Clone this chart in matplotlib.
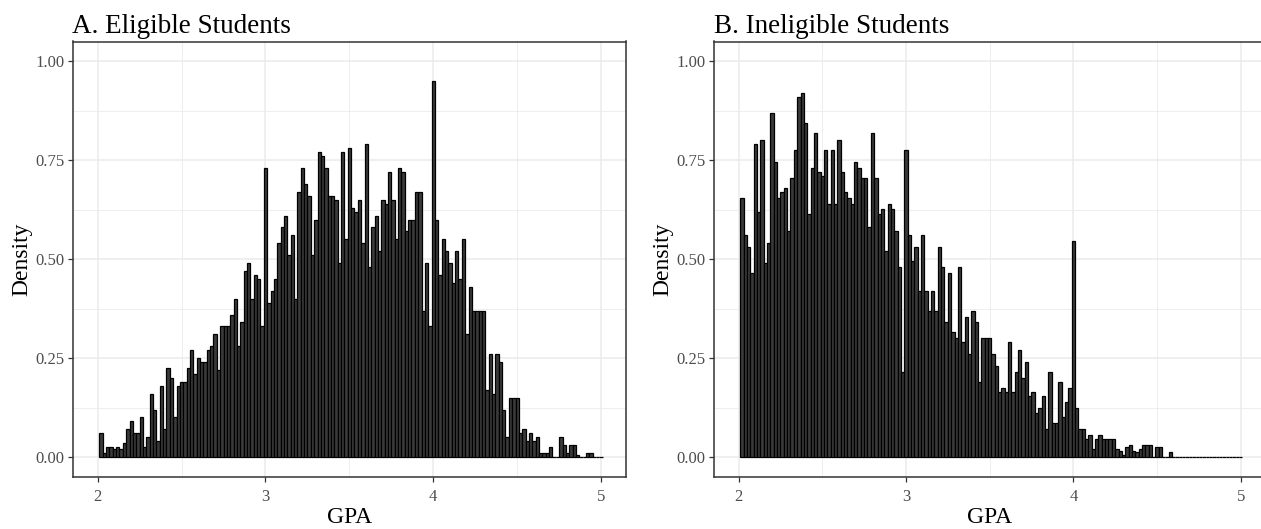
import numpy as np
import matplotlib
matplotlib.use('Agg')
import matplotlib.pyplot as plt

plt.rcParams['font.family'] = ['Liberation Serif', 'DejaVu Serif']

# histogram bins: width 0.02, centres 2.02 ... 5.00
bin_width = 0.02
bin_centers = np.round(2.02 + bin_width * np.arange(150), 2)

# density per bin
eligible = [
    0.06, 0.01, 0.025, 0.025, 0.02, 0.025, 0.02, 0.035, 0.07, 0.09,
    0.06, 0.06, 0.10, 0.025, 0.05, 0.16, 0.12, 0.04, 0.18, 0.07,
    0.225, 0.20, 0.10, 0.18, 0.19, 0.19, 0.225, 0.27,
    0.21, 0.25, 0.24, 0.24, 0.27, 0.28, 0.31, 0.22, 0.33, 0.33,
    0.33, 0.36, 0.40, 0.28, 0.34, 0.47, 0.49, 0.40, 0.46, 0.45,
    0.33, 0.73, 0.39, 0.42, 0.45, 0.54, 0.58, 0.61, 0.51, 0.56,
    0.40, 0.67, 0.73, 0.69, 0.66, 0.51, 0.60, 0.77, 0.76,
    0.73, 0.66, 0.66, 0.65, 0.49, 0.77, 0.55, 0.78, 0.63, 0.62,
    0.65, 0.54, 0.79, 0.48, 0.58, 0.61, 0.52, 0.65, 0.64, 0.72,
    0.65, 0.55, 0.73, 0.72, 0.57, 0.60, 0.60, 0.67, 0.67, 0.37,
    0.49, 0.33, 0.95, 0.60, 0.46, 0.55, 0.52,
    0.49, 0.44, 0.52, 0.45, 0.55, 0.31, 0.43, 0.37, 0.37, 0.37,
    0.37, 0.17, 0.26, 0.16, 0.26, 0.24, 0.12, 0.05, 0.15, 0.15,
    0.15, 0.06, 0.07, 0.04, 0.06, 0.04, 0.05, 0.01, 0.01, 0.01,
    0.025, 0.0, 0.0, 0.05, 0.03, 0.01, 0.03,
    0.03, 0.005, 0.0, 0.0, 0.01, 0.01, 0.0, 0.0, 0.0,
]

ineligible = [
    0.655, 0.56, 0.53, 0.465, 0.79, 0.62, 0.80, 0.49, 0.54, 0.87,
    0.745, 0.655, 0.67, 0.68, 0.57, 0.705, 0.775, 0.91, 0.92, 0.845,
    0.615, 0.73, 0.82, 0.72, 0.71, 0.775, 0.64, 0.775, 0.64, 0.80,
    0.72, 0.67, 0.655, 0.64, 0.745, 0.73, 0.705,
    0.705, 0.58, 0.82, 0.705, 0.615, 0.627, 0.52, 0.64, 0.627, 0.57,
    0.48, 0.215, 0.775, 0.56, 0.495, 0.53, 0.42, 0.56, 0.42, 0.37,
    0.42, 0.37, 0.53, 0.48, 0.34, 0.465, 0.315, 0.30, 0.48, 0.29,
    0.355, 0.26, 0.37, 0.34, 0.19, 0.30, 0.30,
    0.30, 0.26, 0.23, 0.165, 0.175, 0.165, 0.29, 0.165, 0.215, 0.27,
    0.20, 0.24, 0.155, 0.165, 0.11, 0.125, 0.155, 0.07, 0.215, 0.085,
    0.085, 0.19, 0.10, 0.14, 0.175,
    0.545,
    0.125, 0.07, 0.07, 0.045, 0.055, 0.02, 0.045, 0.055, 0.045, 0.045,
    0.045,
    0.045, 0.02, 0.015, 0.005, 0.025, 0.03, 0.015, 0.013, 0.02, 0.03,
    0.03, 0.03, 0.0, 0.025, 0.025, 0.0, 0.0, 0.013,
    0.0, 0.0, 0.0, 0.0, 0.0, 0.0, 0.0, 0.0, 0.0, 0.0,
    0.0, 0.0, 0.0, 0.0, 0.0, 0.0, 0.0, 0.0, 0.0, 0.0, 0.0,
]

titles = ['A. Eligible Students', 'B. Ineligible Students']
x_ticks = [2, 3, 4, 5]
y_ticks = [0.0, 0.25, 0.5, 0.75, 1.0]
y_ticklabels = ['0.00', '0.25', '0.50', '0.75', '1.00']

W, H = 1261, 529
fig = plt.figure(figsize=(W / 100, H / 100), dpi=100)
# panel boxes in pixels: left, right, top, bottom (right panel runs off the edge)
boxes = [(72.5, 626.3, 41.5, 476.8), (713.5, 1265.8, 41.5, 476.8)]

for (l, r, t, b), dens, title in zip(boxes, [eligible, ineligible], titles):
    ax = fig.add_axes([l / W, (H - b) / H, (r - l) / W, (b - t) / H])
    ax.bar(bin_centers, dens, width=bin_width, color='#3a3a3a',
           edgecolor='black', linewidth=0.9, zorder=3)
    ax.set_xlim(1.85, 5.15)
    ax.set_ylim(-0.05, 1.05)
    ax.set_xticks(x_ticks)
    ax.set_xticks([2.5, 3.5, 4.5], minor=True)
    ax.set_yticks(y_ticks)
    ax.set_yticklabels(y_ticklabels)
    ax.set_yticks([0.125, 0.375, 0.625, 0.875], minor=True)
    ax.grid(which='major', color='#ebebeb', linewidth=1.1)
    ax.grid(which='minor', color='#ebebeb', linewidth=0.6)
    ax.set_axisbelow(True)
    ax.tick_params(which='minor', length=0)
    ax.tick_params(which='major', length=3.5, width=0.9, color='#333333',
                   labelsize=12, labelcolor='#4d4d4d', pad=2.5)
    ax.tick_params(axis='x', pad=5)
    for s in ax.spines.values():
        s.set_color('#333333')
        s.set_linewidth(1.1)
    ax.set_xlabel('GPA', fontsize=17, labelpad=2)
    ax.set_ylabel('Density', fontsize=17, labelpad=2)
    ax.set_title(title, loc='left', fontsize=19.5, pad=6)

plt.savefig('out.png', dpi=100)
